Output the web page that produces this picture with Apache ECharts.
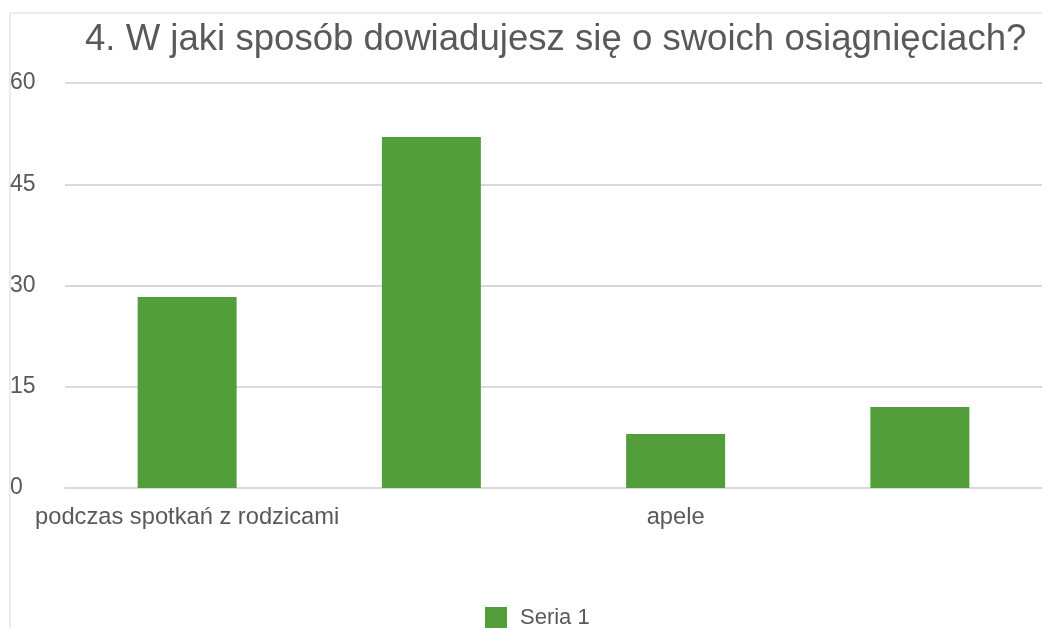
<!DOCTYPE html>
<html>
<head>
<meta charset="utf-8">
<script src="https://cdn.jsdelivr.net/npm/echarts@6/dist/echarts.min.js"></script>
<style>
  html, body { margin: 0; padding: 0; background: #fff; }
  #chart { width: 1042px; height: 628px; }
</style>
</head>
<body>
<div id="chart"></div>
<script>
// dane
const categories = ['podczas spotkań z rodzicami', 'przez dziennik elektroniczny', 'apele', 'inne'];
const seriesName = 'Seria 1';
const values = [28.3, 52, 8, 12];
const yTicks = [0, 15, 30, 45, 60];

const textColor = '#595959';
const font = 'Liberation Sans';

const chart = echarts.init(document.getElementById('chart'));

chart.setOption({
  animation: false,
  title: {
    text: '4. W jaki sposób dowiadujesz się o swoich osiągnięciach?',
    left: 80,
    top: 16,
    textStyle: { color: textColor, fontFamily: font, fontWeight: 'normal', fontSize: 36.6 }
  },
  graphic: [{
    type: 'polyline',
    shape: { points: [[10, 628], [10, 13], [1042, 13]] },
    style: { stroke: '#d9d9d9', lineWidth: 1, fill: null }
  }],
  legend: {
    data: [seriesName],
    top: 607,
    left: 485,
    padding: 0,
    icon: 'rect',
    itemWidth: 22,
    itemHeight: 22,
    textStyle: { color: textColor, fontFamily: font, fontSize: 22, padding: [0, 0, 0, 8] }
  },
  grid: { left: 65, right: -3, top: 83, bottom: 140 },
  xAxis: {
    type: 'category',
    data: categories,
    axisTick: { show: false },
    axisLine: { lineStyle: { color: '#d9d9d9', width: 2 } },
    axisLabel: { interval: 1, color: textColor, fontFamily: font, fontSize: 23.7, margin: 17 }
  },
  yAxis: {
    type: 'value',
    min: yTicks[0],
    max: yTicks[yTicks.length - 1],
    interval: 15,
    axisLine: { show: false },
    axisTick: { show: false },
    splitLine: { lineStyle: { color: '#d9d9d9', width: 2 } },
    axisLabel: { align: 'left', margin: 55, padding: [4, 0, 0, 0], color: textColor, fontFamily: font, fontSize: 23 }
  },
  series: [{
    name: seriesName,
    type: 'bar',
    data: values,
    barWidth: 99,
    itemStyle: { color: '#529e3b' }
  }]
});
</script>
</body>
</html>
